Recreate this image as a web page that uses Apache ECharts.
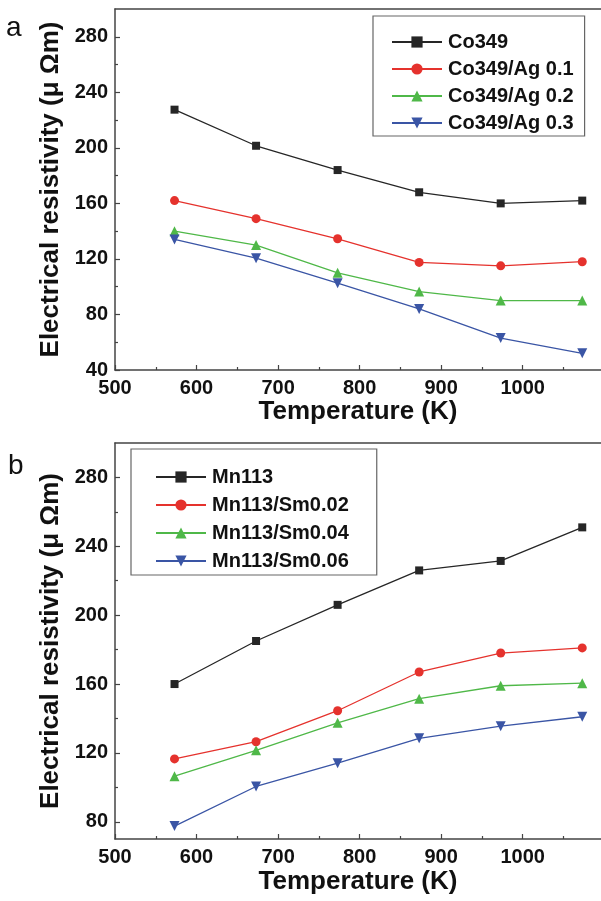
<!DOCTYPE html>
<html>
<head>
<meta charset="utf-8">
<script src="https://cdn.jsdelivr.net/npm/echarts@6/dist/echarts.min.js"></script>
<style>
  html, body { margin: 0; padding: 0; background: #fff; }
  #chart { width: 601px; height: 901px; }
</style>
</head>
<body>
<div id="chart"></div>
<script>
// temperatures (K)
const temps = [573, 673, 773, 873, 973, 1073];

// panel a
const namesA = ['Co349', 'Co349/Ag 0.1', 'Co349/Ag 0.2', 'Co349/Ag 0.3'];
const co349 = [227.5, 201.5, 184, 168, 160, 162];
const co349Ag01 = [162, 149, 134.5, 117.5, 115, 118];
const co349Ag02 = [140, 130, 110, 96.5, 90, 90];
const co349Ag03 = [134, 120.5, 102.5, 84, 63, 52];

// panel b
const namesB = ['Mn113', 'Mn113/Sm0.02', 'Mn113/Sm0.04', 'Mn113/Sm0.06'];
const mn113 = [160, 185, 206, 226, 231.5, 251];
const mn113Sm002 = [116.5, 126.5, 144.5, 167, 178, 181];
const mn113Sm004 = [106.5, 121.5, 137.5, 151.5, 159, 160.5];
const mn113Sm006 = [77.5, 100.5, 114, 128.5, 135.5, 141];

// tick labels
const xLabels = [500, 600, 700, 800, 900, 1000];
const xMinor = [550, 650, 750, 850, 950, 1050];
const yLabelsA = [40, 80, 120, 160, 200, 240, 280];
const yMinorA = [60, 100, 140, 180, 220, 260];
const yLabelsB = [80, 120, 160, 200, 240, 280];
const yMinorB = [100, 140, 180, 220, 260];

const FONT = '"Liberation Sans", Arial, sans-serif';
const colors = ['#262626', '#e5322d', '#4fb848', '#3a55a5'];
const symbols = ['rect', 'circle', 'triangle', 'triangle'];
const rotates = [0, 0, 0, 180];
const sizes = [8, 9, 10, 10];
const X_MAX = 1096; // plot is cut by the right edge of the picture

const pair = ys => temps.map((t, i) => [t, ys[i]]);

function makeSeries(names, lists, gi) {
  return names.map((n, i) => ({
    name: n,
    type: 'line',
    xAxisIndex: gi * 3,
    yAxisIndex: gi * 2,
    data: pair(lists[i]),
    symbol: symbols[i],
    symbolRotate: rotates[i],
    symbolSize: sizes[i],
    color: colors[i],
    lineStyle: { width: 1.3, color: colors[i] },
    itemStyle: { color: colors[i] },
    animation: false
  }));
}

function xAxes(gi, nameGap) {
  return [
    {
      gridIndex: gi, type: 'value', position: 'bottom', min: 500, max: X_MAX,
      name: 'Temperature (K)', nameLocation: 'middle', nameGap: nameGap,
      nameTextStyle: { fontFamily: FONT, fontWeight: 'bold', fontSize: 26, color: '#111', padding: [0, 0, 0, 0] },
      axisLine: { lineStyle: { color: '#444', width: 1.5 } },
      axisTick: { inside: true, length: 5, customValues: xLabels, lineStyle: { color: '#444', width: 1.2 } },
      axisLabel: { customValues: xLabels, margin: 8, formatter: v => String(v), fontFamily: FONT, fontWeight: 'bold', fontSize: 20, color: '#111' },
      splitLine: { show: false }
    },
    {
      gridIndex: gi, type: 'value', position: 'bottom', min: 500, max: X_MAX,
      axisLine: { show: false },
      axisTick: { inside: true, length: 3, customValues: xMinor, lineStyle: { color: '#444', width: 1.2 } },
      axisLabel: { show: false },
      splitLine: { show: false }
    },
    {
      // top frame line
      gridIndex: gi, type: 'value', position: 'top', min: 500, max: X_MAX,
      axisLine: { show: true, lineStyle: { color: '#444', width: 1.5 } },
      axisTick: { show: false },
      axisLabel: { show: false },
      splitLine: { show: false }
    }
  ];
}

function yAxes(gi, min, labels, minor) {
  return [
    {
      gridIndex: gi, type: 'value', position: 'left', min: min, max: 300,
      name: 'Electrical resistivity (μ Ωm)', nameLocation: 'middle', nameGap: 40,
      nameTextStyle: { fontFamily: FONT, fontWeight: 'bold', fontSize: 26, color: '#111' },
      axisLine: { show: true, lineStyle: { color: '#444', width: 1.5 } },
      axisTick: { show: true, inside: true, length: 5, customValues: labels, lineStyle: { color: '#444', width: 1.2 } },
      axisLabel: { customValues: labels, margin: 7, fontFamily: FONT, fontWeight: 'bold', fontSize: 20, color: '#111' },
      splitLine: { show: false }
    },
    {
      gridIndex: gi, type: 'value', position: 'left', offset: 0, min: min, max: 300,
      axisLine: { show: false },
      axisTick: { show: true, inside: true, length: 3, customValues: minor, lineStyle: { color: '#444', width: 1.2 } },
      axisLabel: { show: false },
      splitLine: { show: false }
    }
  ];
}

const legendCommon = {
  orient: 'vertical',
  backgroundColor: '#fff',
  borderColor: '#666',
  borderWidth: 1.2,
  itemWidth: 50,
  itemHeight: 14,
  itemGap: 7,
  textStyle: { fontFamily: FONT, fontWeight: 'bold', fontSize: 20, color: '#111', padding: [0, 0, 0, 1] }
};

const chart = echarts.init(document.getElementById('chart'), null, { renderer: 'canvas' });
chart.setOption({
  animation: false,
  backgroundColor: '#fff',
  grid: [
    { left: 115, top: 9, right: 0, height: 361, containLabel: false },
    { left: 115, top: 443, right: 0, height: 396, containLabel: false }
  ],
  xAxis: [...xAxes(0, 27), ...xAxes(1, 30)],
  yAxis: [...yAxes(0, 40, yLabelsA, yMinorA), ...yAxes(1, 70, yLabelsB, yMinorB)],
  legend: [
    Object.assign({}, legendCommon, { data: namesA, left: 373, top: 16, padding: [16, 11, 3, 18] }),
    Object.assign({}, legendCommon, { data: namesB, left: 131, top: 449, padding: [18, 28, 4, 24], itemGap: 8 })
  ],
  graphic: [
    { type: 'text', left: 6, top: 14, style: { text: 'a', fontFamily: FONT, fontSize: 28, fill: '#111' } },
    { type: 'text', left: 8, top: 452, style: { text: 'b', fontFamily: FONT, fontSize: 28, fill: '#111' } }
  ],
  series: [
    ...makeSeries(namesA, [co349, co349Ag01, co349Ag02, co349Ag03], 0),
    ...makeSeries(namesB, [mn113, mn113Sm002, mn113Sm004, mn113Sm006], 1)
  ]
});
</script>
</body>
</html>
